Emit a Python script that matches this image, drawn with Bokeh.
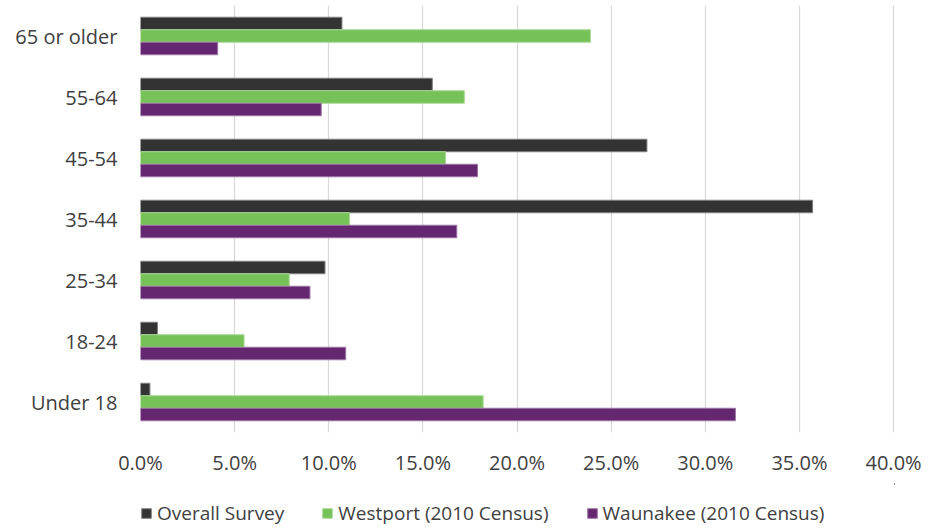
from bokeh.plotting import figure
from bokeh.layouts import column
from bokeh.models import (ColumnDataSource, FactorRange, Range1d, FixedTicker, Legend, LegendItem,
                          CDSView, IndexFilter)
from bokeh.transform import dodge
from bokeh.embed import file_html
from bokeh.resources import INLINE

# ---- data (percent) ----
categories = ["65 or older", "55-64", "45-54", "35-44", "25-34", "18-24", "Under 18"]
overall_survey = [10.7, 15.5, 26.9, 35.7, 9.8, 0.9, 0.5]
westport_2010 = [23.9, 17.2, 16.2, 11.1, 7.9, 5.5, 18.2]
waunakee_2010 = [4.1, 9.6, 17.9, 16.8, 9.0, 10.9, 31.6]
series_names = ["Overall Survey", "Westport (2010 Census)", "Waunakee (2010 Census)"]
x_ticks = [0, 5, 10, 15, 20, 25, 30, 35, 40]
x_tick_labels = ["0.0%", "5.0%", "10.0%", "15.0%", "20.0%", "25.0%", "30.0%", "35.0%", "40.0%"]

TEXT = "#404040"
FONT = "Open Sans"
colors = ["#333333", "#77c159", "#652870"]
outlines = ["#7f7f7f", "#a9d895", "#9c74a4"]

source = ColumnDataSource(dict(cat=categories, a=overall_survey, b=westport_2010, c=waunakee_2010))

# ---- main chart ----
p = figure(width=925, height=480, output_backend="svg", toolbar_location=None,
           y_range=FactorRange(*list(reversed(categories))),
           x_range=Range1d(0, 40.05),
           min_border_left=140, min_border_right=31, min_border_top=5, min_border_bottom=48)

bw = 0.205
for col, off, c, lc in zip(["a", "b", "c"], [bw, 0.0, -bw], colors, outlines):
    p.hbar(y=dodge("cat", off, range=p.y_range), left=0, right=col, height=bw,
           source=source, fill_color=c, line_color=lc, line_width=1)

p.xaxis.ticker = FixedTicker(ticks=x_ticks)
p.xaxis.major_label_overrides = {t: l for t, l in zip(x_ticks, x_tick_labels)}
p.xgrid.ticker = FixedTicker(ticks=x_ticks)
p.xgrid.grid_line_color = "#d9d9d9"
p.xgrid.grid_line_width = 1.3
p.ygrid.grid_line_color = None

for ax in (p.xaxis, p.yaxis):
    ax.axis_line_color = None
    ax.major_tick_line_color = None
    ax.minor_tick_line_color = None
    ax.major_tick_out = 0
    ax.major_tick_in = 0
    ax.major_label_text_font = FONT
    ax.major_label_text_font_size = "20px"
    ax.major_label_text_color = TEXT

p.xaxis.major_label_standoff = 16
p.yaxis.major_label_standoff = 23
p.outline_line_color = None

# ---- legend strip (same series styles, one row kept and drawn off-range) ----
pl = figure(width=925, height=47, output_backend="svg", toolbar_location=None,
            x_range=Range1d(-2, -1), y_range=FactorRange(*list(reversed(categories))),
            x_axis_location=None, y_axis_location=None,
            min_border_left=0, min_border_right=0, min_border_top=0, min_border_bottom=0)
pl.xgrid.grid_line_color = None
pl.ygrid.grid_line_color = None
pl.outline_line_color = None
leg_renderers = []
for col, c, lc in zip(["a", "b", "c"], colors, outlines):
    r = pl.hbar(y="cat", left=0, right=col, height=bw, source=source,
                view=CDSView(filter=IndexFilter(indices=[0])),
                fill_color=c, line_color=lc, line_width=1)
    leg_renderers.append(r)

legend = Legend(items=[LegendItem(label=n, renderers=[r]) for n, r in zip(series_names, leg_renderers)],
                location=(0, 1), orientation="horizontal")
legend.background_fill_alpha = 0
legend.border_line_color = None
legend.padding = 0
legend.margin = 0
legend.spacing = 37
legend.glyph_width = 12
legend.glyph_height = 12
legend.label_standoff = 5
legend.label_text_font = FONT
legend.label_text_font_size = "19px"
legend.label_text_color = TEXT
pl.add_layout(legend)

layout = column(p, pl, spacing=0)
open("out.html", "w").write(file_html(layout, INLINE))
